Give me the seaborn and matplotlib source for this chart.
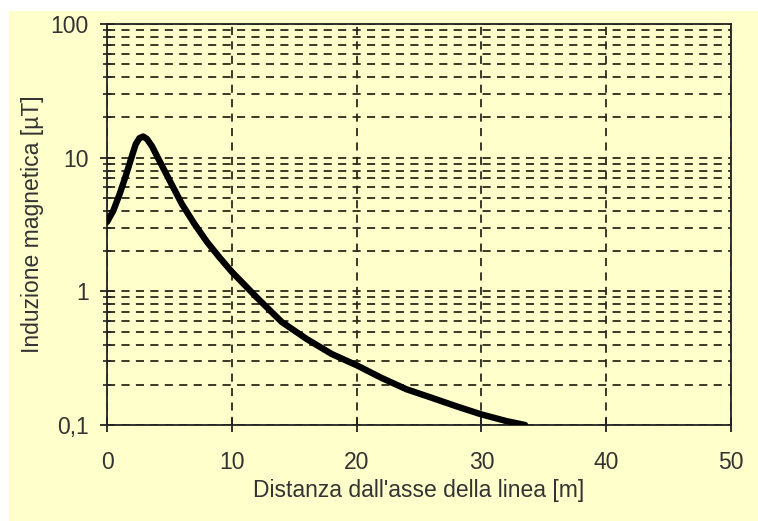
import matplotlib
matplotlib.use("Agg")
import matplotlib.pyplot as plt
import matplotlib.ticker as mticker
from matplotlib.patches import Rectangle
import seaborn as sns
import pandas as pd
import numpy as np

# Data
distanza = [0, 0.5, 1, 1.5, 2, 2.3, 2.6, 2.9, 3.2, 3.6, 4, 5, 6, 7, 8, 9, 10,
            12, 14, 16, 18, 20, 22, 24, 26, 28, 30, 32, 33.5]
induzione = [3.3, 4.0, 5.3, 7.3, 10.3, 12.6, 14.0, 14.4, 13.8, 12.2, 10.3, 6.8, 4.5, 3.2, 2.35, 1.8, 1.4,
             0.9, 0.59, 0.44, 0.34, 0.28, 0.225, 0.185, 0.16, 0.138, 0.12, 0.107, 0.1]
x_ticks = [0, 10, 20, 30, 40, 50]
y_ticks = [0.1, 1, 10, 100]
y_tick_labels = ["0,1", "1", "10", "100"]
x_label = "Distanza dall'asse della linea [m]"
y_label = "Induzione magnetica [µT]"

df = pd.DataFrame({"x": distanza, "y": induzione})

sns.set_theme(style="white")
plt.rcParams["font.family"] = ["Liberation Sans", "DejaVu Sans"]

W, H = 758, 521
fig = plt.figure(figsize=(W / 100, H / 100), dpi=100)
fig.patch.set_facecolor("white")
bg = "#FFFFCC"
fig.patches.append(Rectangle((9 / W, 0), 1 - 9 / W, 1 - 11 / H, transform=fig.transFigure,
                             facecolor=bg, edgecolor="none", zorder=-10))

left, right, top, bottom = 107, 731, 24, 425
ax = fig.add_axes([left / W, 1 - bottom / H, (right - left) / W, (bottom - top) / H])
ax.set_facecolor(bg)

sns.lineplot(data=df, x="x", y="y", ax=ax, color="black", linewidth=4.6,
             solid_capstyle="round", solid_joinstyle="round", zorder=5, clip_on=True)

ax.set_yscale("log")
ax.set_xlim(0, 50)
ax.set_ylim(0.1, 100)
ax.set_xticks(x_ticks)
ax.set_xticklabels([str(t) for t in x_ticks])
ax.set_yticks(y_ticks)
ax.set_yticklabels(y_tick_labels)
ax.yaxis.set_minor_locator(mticker.LogLocator(base=10, subs=np.arange(2, 10)))
ax.yaxis.set_minor_formatter(mticker.NullFormatter())

grid_kw = dict(color="#2a2a1a", linewidth=1.3, linestyle=(0, (4.5, 3.5)))
ax.grid(True, which="major", axis="x", **grid_kw)
ax.grid(True, which="both", axis="y", **grid_kw)
ax.set_axisbelow(True)

for s in ax.spines.values():
    s.set_visible(True)
    s.set_color("#222")
    s.set_linewidth(1.3)

txt = "#333333"
ax.tick_params(axis="both", which="major", direction="inout", length=10, width=1.3,
               color="#222", labelsize=16.5, labelcolor=txt,
               left=True, bottom=True)
ax.tick_params(axis="x", which="major", pad=14)
ax.tick_params(axis="y", which="major", pad=8)
ax.tick_params(axis="y", which="minor", direction="inout", length=6, width=1.2,
               color="#222", left=True)

ax.set_xlabel(x_label, fontsize=16.5, color=txt, labelpad=3)
ax.set_ylabel(y_label, fontsize=16.5, color=txt, labelpad=5)

fig.savefig("out.png", dpi=100, facecolor=fig.get_facecolor())
